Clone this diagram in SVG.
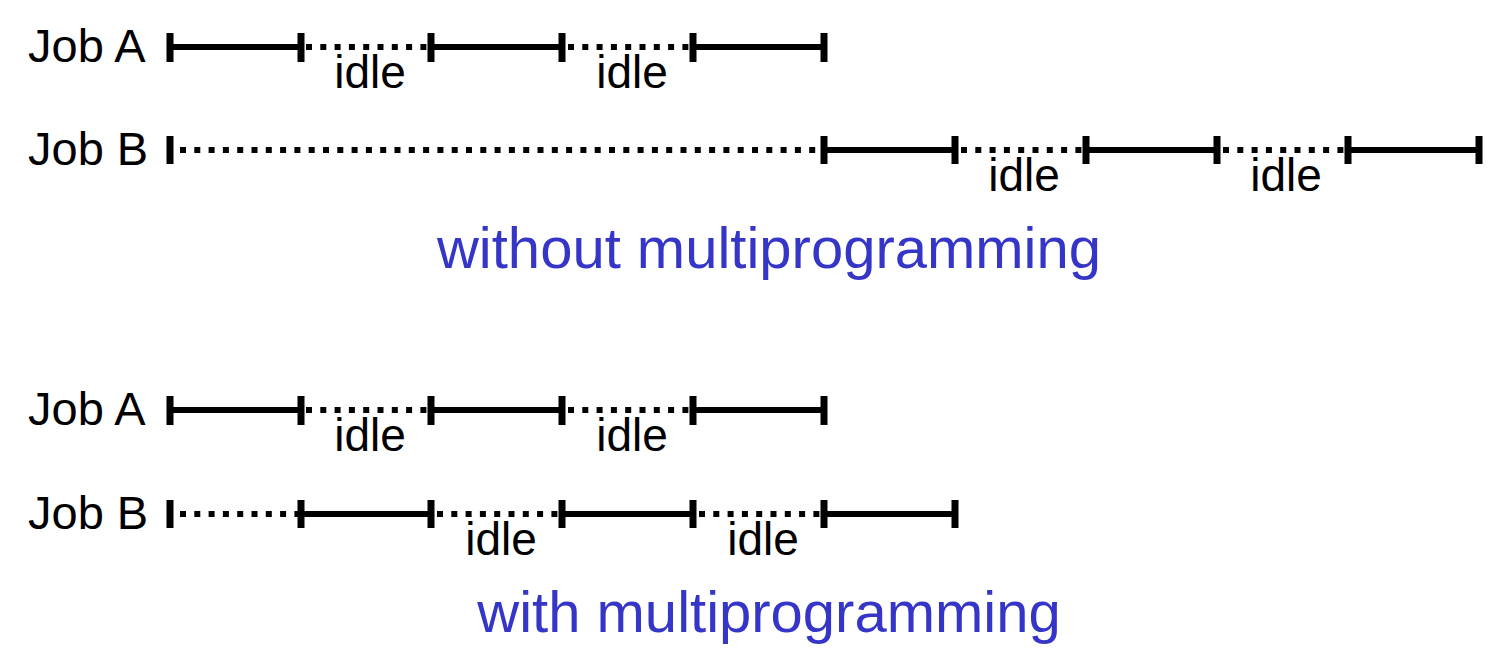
<svg xmlns="http://www.w3.org/2000/svg" width="1498" height="650" viewBox="0 0 1498 650">
<style>
.lbl{font-family:"Liberation Sans",Arial,sans-serif;font-size:47px;fill:#000}
.idle{font-family:"Liberation Sans",Arial,sans-serif;font-size:46px;fill:#000;text-anchor:middle}
.title{font-family:"Liberation Sans",Arial,sans-serif;font-size:58px;fill:#3535C8;text-anchor:middle}
.run{stroke:#000;stroke-width:6;fill:none}
.wait{stroke:#000;stroke-width:6;stroke-dasharray:6 8.3;fill:none}
.tick{stroke:#000;stroke-width:7;fill:none}
</style>
<rect width="1498" height="650" fill="#fff"/>
<g id="top-jobA">
<text class="lbl" x="28" y="62">Job A</text>
<path class="run" d="M170 47H300M431 47H562M693 47H824"/>
<path class="wait" d="M306 47H431M568 47H693"/>
<path class="tick" d="M170 33V62M301 33V62M431 33V62M562 33V62M693 33V62M824 33V62"/>
<text class="idle" x="370" y="88">idle</text>
<text class="idle" x="632" y="88">idle</text>
</g>
<g id="top-jobB">
<text class="lbl" x="28" y="165">Job B</text>
<path class="wait" d="M180 150H824M961 150H1086M1223 150H1348"/>
<path class="run" d="M824 150H955M1086 150H1217M1348 150H1479"/>
<path class="tick" d="M170 136V164M824 136V164M955 136V164M1086 136V164M1217 136V164M1348 136V164M1479 136V164"/>
<text class="idle" x="1024" y="191">idle</text>
<text class="idle" x="1286" y="191">idle</text>
</g>
<text id="title-without" class="title" x="769" y="268">without multiprogramming</text>
<g id="bottom-jobA">
<text class="lbl" x="28" y="425">Job A</text>
<path class="run" d="M170 410H300M431 410H562M693 410H824"/>
<path class="wait" d="M306 410H431M568 410H693"/>
<path class="tick" d="M170 396V425M301 396V425M431 396V425M562 396V425M693 396V425M824 396V425"/>
<text class="idle" x="370" y="451">idle</text>
<text class="idle" x="632" y="451">idle</text>
</g>
<g id="bottom-jobB">
<text class="lbl" x="28" y="529">Job B</text>
<path class="wait" d="M180 514H300M437 514H562M699 514H824"/>
<path class="run" d="M300 514H431M562 514H693M824 514H955"/>
<path class="tick" d="M170 500V528M301 500V528M431 500V528M562 500V528M693 500V528M824 500V528M955 500V528"/>
<text class="idle" x="501" y="555">idle</text>
<text class="idle" x="763" y="555">idle</text>
</g>
<text id="title-with" class="title" x="769" y="632">with multiprogramming</text>
</svg>
